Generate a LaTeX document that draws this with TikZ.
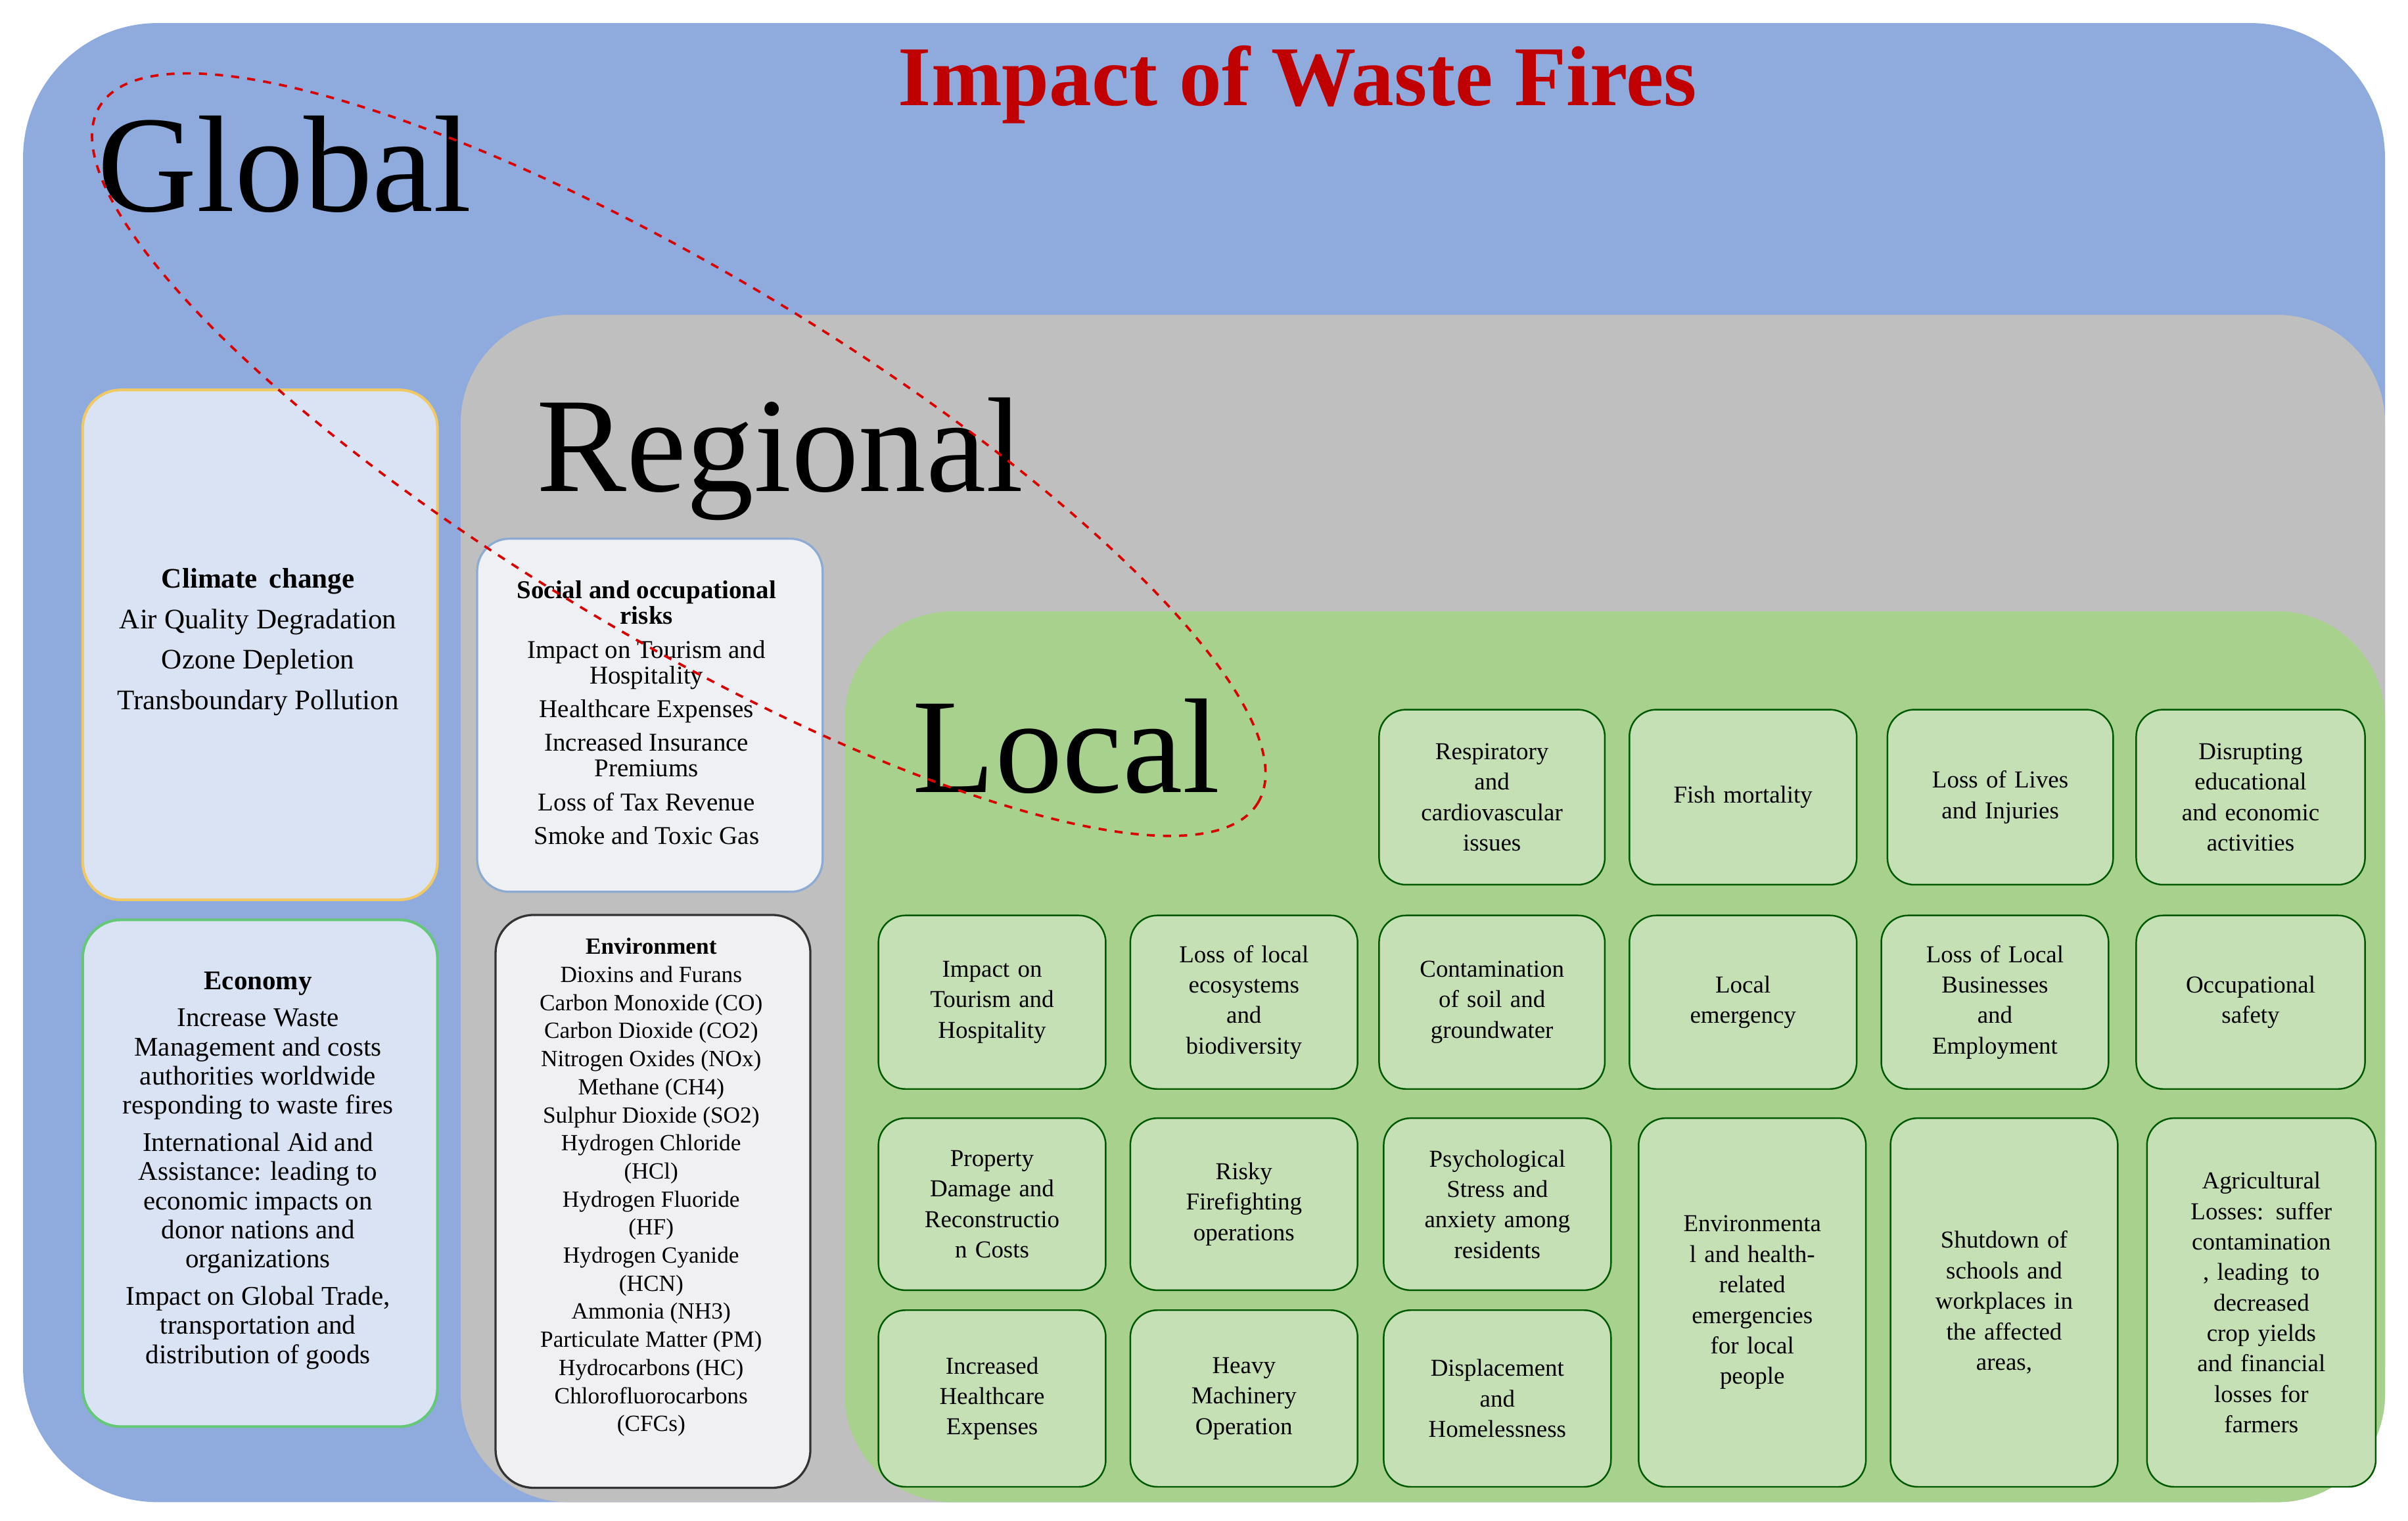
\documentclass[tikz,border=0pt]{standalone}
\usepackage{fontspec}
\setmainfont{Liberation Serif}
\begin{document}
\begin{tikzpicture}[x=0.02cm,y=-0.02cm,
  gb/.style={draw=green!35!black,rounded corners=10pt,line width=0.6pt,align=center,font=\fontsize{9}{11.3}\selectfont,inner sep=2pt},
  bigl/.style={font=\fontsize{51}{55}\selectfont,anchor=west,inner sep=0pt}]
\definecolor{gfill}{HTML}{C5E0B4}
\tikzset{gb/.append style={fill=gfill}}
\newcommand\gbx[6]{\node[gb,minimum width={(#4-#2)*0.02cm},minimum height={(#5-#3)*0.02cm},text width=2.7cm] (#1) at ({(#2+#4)/2},{(#3+#5)/2}) {#6};}
\useasboundingbox (0,0) rectangle (1568,990);
\fill[white] (0,0) rectangle (1568,990);
\fill[fill={rgb,255:red,143;green,170;blue,220}] (15,15) [rounded corners=50pt] rectangle (1553,978);
\fill[fill={rgb,255:red,191;green,191;blue,191}] (300,205) [rounded corners=40pt] rectangle (1553,978);
\fill[fill={rgb,255:red,169;green,209;blue,142}] (550,398) [rounded corners=40pt] rectangle (1553,978);
\node[font=\bfseries\fontsize{31.5}{35}\selectfont,text={rgb,255:red,192;green,0;blue,0}] (title) at (845,55) {Impact of Waste Fires};
\node[bigl] (global) at (63,107) {Global};
\node[bigl,font=\fontsize{50}{54}\selectfont] (regional) at (349,299) {Regional};
\node[bigl,font=\fontsize{50}{54}\selectfont] (local) at (594,486) {Local};
% left boxes
\node[draw={rgb,255:red,240;green,200;blue,100},fill={rgb,255:red,218;green,227;blue,243},rounded corners=14pt,line width=1pt,minimum width=4.62cm,minimum height=6.64cm,anchor=north west] (climbox) at (53,253) {};
\node[align=center,font=\fontsize{10.5}{15}\selectfont] (clim) at (168,418) {\textbf{Climate\, change}\\Air Quality Degradation\\Ozone Depletion\\Transboundary Pollution};
\node[draw={rgb,255:red,100;green,200;blue,120},fill={rgb,255:red,218;green,227;blue,243},rounded corners=14pt,line width=1pt,minimum width=4.62cm,minimum height=6.6cm,anchor=north west] (ecobox) at (53,598) {};
\node[align=center,font=\fontsize{10}{10.8}\selectfont] (eco) at (168,762) {\textbf{Economy}\\[3pt]Increase Waste\\Management and costs\\authorities worldwide\\responding to waste fires\\[3pt]International Aid and\\Assistance: leading to\\economic impacts on\\donor nations and\\organizations\\[3pt]Impact on Global Trade,\\transportation and\\distribution of goods};
% regional boxes
\node[draw={rgb,255:red,140;green,170;blue,210},fill={rgb,255:red,238;green,240;blue,244},rounded corners=12pt,line width=0.8pt,minimum width=4.5cm,minimum height=4.6cm,anchor=north west] (socbox) at (310,350) {};
\node[align=center,font=\fontsize{9.5}{9.5}\selectfont] (soc) at (421,464) {\textbf{Social and occupational}\\\textbf{risks}\\[3pt]Impact on Tourism and\\Hospitality\\[3pt]Healthcare Expenses\\[3pt]Increased Insurance\\Premiums\\[3pt]Loss of Tax Revenue\\[3pt]Smoke and Toxic Gas};
\node[draw=black!80,fill={rgb,255:red,240;green,240;blue,242},rounded corners=14pt,line width=0.8pt,minimum width=4.1cm,minimum height=7.46cm,anchor=north west] (envbox) at (322,595) {};
\node[align=center,font=\fontsize{8.6}{10.4}\selectfont] (env) at (424,773) {\textbf{Environment}\\Dioxins and Furans\\Carbon Monoxide (CO)\\Carbon Dioxide (CO2)\\Nitrogen Oxides (NOx)\\Methane (CH4)\\Sulphur Dioxide (SO2)\\Hydrogen Chloride\\(HCl)\\Hydrogen Fluoride\\(HF)\\Hydrogen Cyanide\\(HCN)\\Ammonia (NH3)\\Particulate Matter (PM)\\Hydrocarbons (HC)\\Chlorofluorocarbons\\(CFCs)};
% local boxes
\gbx{resp}{898}{462}{1045}{576}{Respiratory\\and\\cardiovascular\\issues}
\gbx{fish}{1061}{462}{1209}{576}{Fish mortality}
\gbx{lives}{1229}{462}{1376}{576}{Loss of Lives\\and Injuries}
\gbx{disr}{1391}{462}{1540}{576}{Disrupting\\educational\\and economic\\activities}
\gbx{tour}{572}{596}{720}{709}{Impact on\\Tourism and\\Hospitality}
\gbx{ecos}{736}{596}{884}{709}{Loss of local\\ecosystems\\and\\biodiversity}
\gbx{cont}{898}{596}{1045}{709}{Contamination\\of soil and\\groundwater}
\gbx{lemg}{1061}{596}{1209}{709}{Local\\emergency}
\gbx{busi}{1225}{596}{1373}{709}{Loss of Local\\Businesses\\and\\Employment}
\gbx{occu}{1391}{596}{1540}{709}{Occupational\\safety}
\gbx{prop}{572}{728}{720}{840}{Property\\Damage and\\Reconstructio\\n Costs}
\gbx{risk}{736}{728}{884}{840}{Risky\\Firefighting\\operations}
\gbx{psy}{901}{728}{1049}{840}{Psychological\\Stress and\\anxiety among\\residents}
\gbx{health}{572}{853}{720}{968}{Increased\\Healthcare\\Expenses}
\gbx{heavy}{736}{853}{884}{968}{Heavy\\Machinery\\Operation}
\gbx{disp}{901}{853}{1049}{968}{Displacement\\and\\Homelessness}
\gbx{envh}{1067}{728}{1215}{968}{Environmenta\\l and health-\\related\\emergencies\\for local\\people}
\gbx{shut}{1231}{728}{1379}{968}{Shutdown of\\schools and\\workplaces in\\the affected\\areas,}
\gbx{agri}{1398}{728}{1547}{968}{Agricultural\\Losses: suffer\\contamination\\, leading\, to\\decreased\\crop yields\\and financial\\losses for\\farmers}
% dashed ellipse
\draw[red!85!black,dashed,line width=0.9pt,rotate around={-31:(442,296)}] (442,296) ellipse [x radius=440,y radius=118];
\end{tikzpicture}
\end{document}
